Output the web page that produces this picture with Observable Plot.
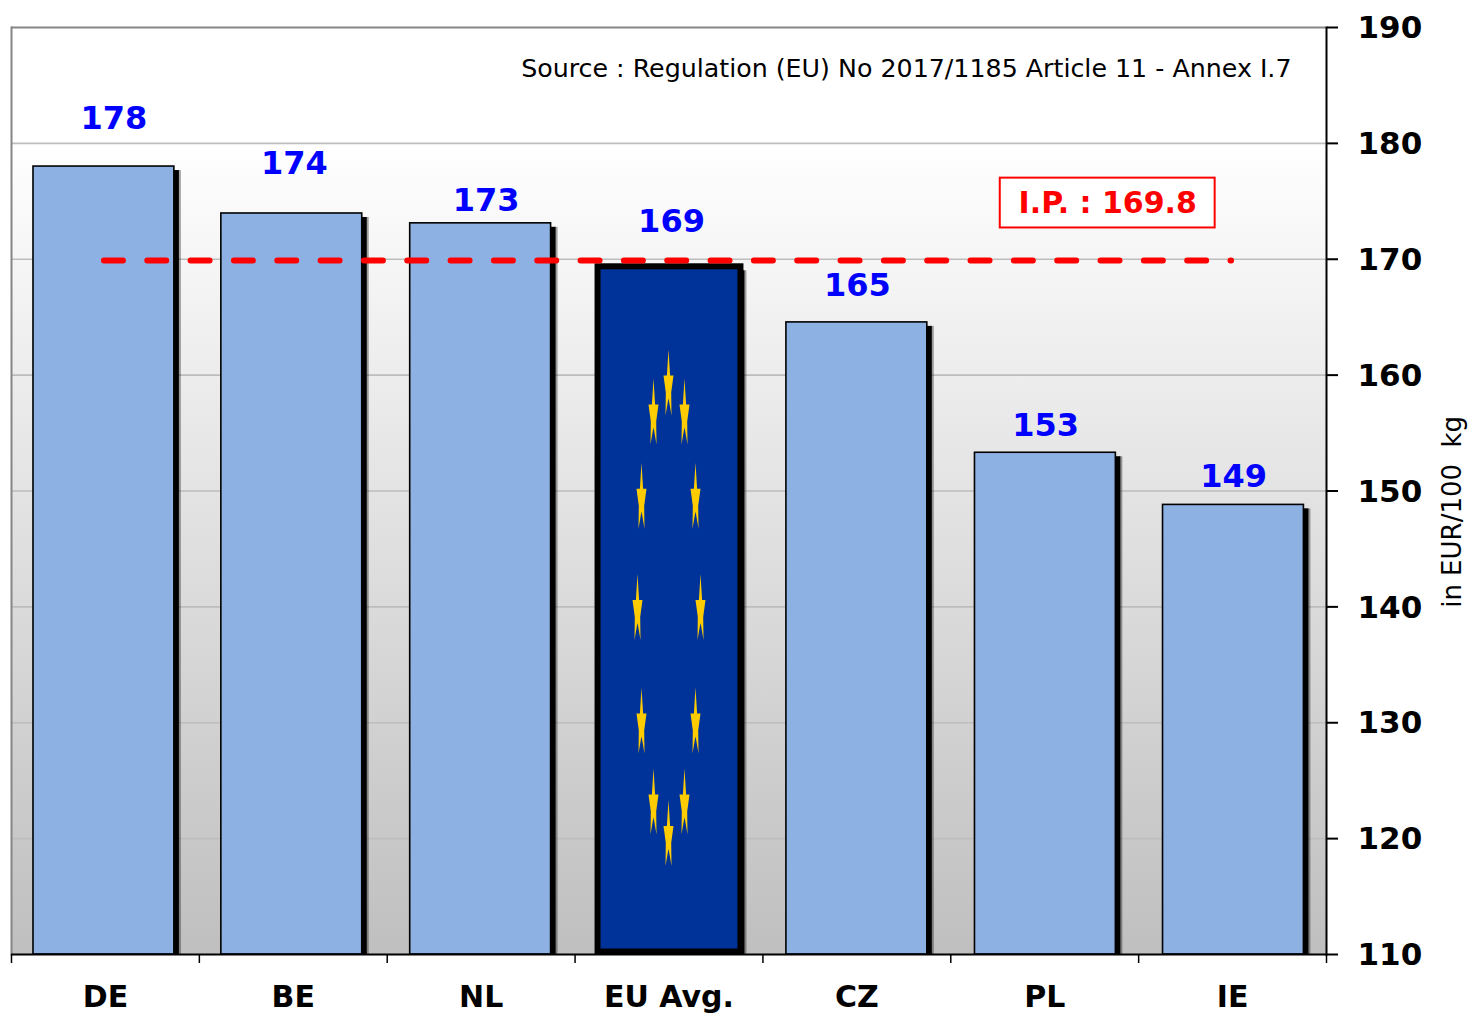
<!DOCTYPE html>
<html>
<head>
<meta charset="utf-8">
<script src="https://cdn.jsdelivr.net/npm/d3@7"></script>
<script src="https://cdn.jsdelivr.net/npm/@observablehq/plot@0.6"></script>
<style>
html,body{margin:0;padding:0;background:#fff}
svg{display:block}
</style>
</head>
<body>
<div id="chart"></div>
<script>
const categories = ["DE","BE","NL","EU Avg.","CZ","PL","IE"];
const values = [178.0,173.95,173.1,169.35,164.55,153.3,148.8];
const barNudge = [-1.5,-1.5,-0.5,0.5,0,0.7,0.9];
const valueLabels = ["178","174","173","169","165","153","149"];
const labelLevels = [182.15,178.27,175.07,173.26,167.74,155.66,151.26];
const labelNudge = [8.5,1,5,2.5,0.5,1,1];
const yTicks = [110,120,130,140,150,160,170,180,190];
const interventionPrice = 169.8;
const starLevels = [159.97,157.47,157.47,150.2,150.2,140.6,140.6,130.8,130.8,123.8,123.8,121.1];
const starNudge = [-0.5,-15.5,15.5,-27.5,26.5,-31.5,31.5,-27.5,26.5,-15.5,15.5,-0.5];

const data = categories.map((c,i)=>({c,v:values[i],eu:c==="EU Avg.",n:barNudge[i]}));

const star = {draw(ctx){
  const p=[[0,-26],[1.6,0],[5,0],[2.7,17],[3,40],[0.6,26],[0,23],[-0.6,26],[-3,40],[-2.7,17],[-5,0],[-1.6,0]];
  p.forEach(([x,y],i)=> i?ctx.lineTo(x,y):ctx.moveTo(x,y));
  ctx.closePath();
}};

const gradient = () => {
  const s = d3.create("svg:defs");
  const g = s.append("linearGradient").attr("id","bg").attr("x1",0).attr("x2",0).attr("y1",0).attr("y2",1);
  g.append("stop").attr("offset","12%").attr("stop-color","#ffffff");
  g.append("stop").attr("offset","100%").attr("stop-color","#bfbfbf");
  return s.node();
};

const FONT = "'DejaVu Sans', Verdana, sans-serif";

const chart = Plot.plot({
  width:1470, height:1013,
  marginLeft:11, marginRight:144, marginTop:27, marginBottom:59,
  style:{fontFamily:FONT, background:"#fff", overflow:"visible"},
  x:{type:"band", domain:categories, paddingInner:0.25, paddingOuter:0.125, round:false, label:null},
  y:{domain:[110,190], label:null},
  marks:[
    gradient,
    Plot.frame({fill:"url(#bg)", stroke:null}),
    Plot.ruleY(yTicks.filter(t=>t>110&&t<190),{stroke:"#bdbdbd",strokeWidth:1.6}),
    Plot.ruleY([190],{stroke:"#858585",strokeWidth:2}),
    Plot.frame({anchor:"left",stroke:"#858585",strokeWidth:2}),
    // bars with shadows
    ...data.flatMap(d=>[
      Plot.barY([d],{x:"c",y1:()=>110,y2:"v",dx:d.n+7,dy:4,insetBottom:4,fill:"#000",fillOpacity:0.35}),
      Plot.barY([d],{x:"c",y1:()=>110,y2:"v",dx:d.n+5,dy:4,insetBottom:4,fill:"#000"}),
      d.eu
        ? Plot.barY([d],{x:"c",y1:()=>110,y2:"v",dx:d.n,insetBottom:2.5,insetLeft:-1,insetRight:-1,fill:"#003399",stroke:"#000",strokeWidth:6})
        : Plot.barY([d],{x:"c",y1:()=>110,y2:"v",dx:d.n,fill:"#8DB1E2",stroke:"#000",strokeWidth:1.6})
    ]),
    // EU stars
    ...starLevels.map((lvl,i)=>Plot.dot(["EU Avg."],{x:d=>d,y:()=>lvl,dx:starNudge[i],symbol:star,fill:"#FFCC00",stroke:"none",r:5})),
    // intervention price line
    Plot.line(categories,{x:d=>d,y:()=>interventionPrice,dx:-1.5,dy:-1,stroke:"#ff0000",strokeWidth:6,strokeDasharray:"19 24.33",strokeLinecap:"round"}),
    // value labels
    ...categories.map((c,i)=>Plot.text([c],{x:d=>d,y:()=>labelLevels[i],dx:labelNudge[i],text:()=>valueLabels[i],fill:"#0000ff",fontSize:32,fontWeight:"bold",lineAnchor:"middle"})),
    // source note
    Plot.text(["Source : Regulation (EU) No 2017/1185 Article 11 - Annex I.7"],{frameAnchor:"right",y:()=>186.4,dx:-35,textAnchor:"end",fontSize:25.3,fill:"#000",lineAnchor:"middle"}),
    // I.P. box
    Plot.barY(["PL"],{x:d=>d,y1:()=>172.7,y2:()=>177,dx:63,insetLeft:-37,insetRight:-37,fill:"#fff",stroke:"#ff0000",strokeWidth:2}),
    Plot.text(["I.P. : 169.8"],{x:()=>"PL",y:()=>174.8,dx:63,fill:"#ff0000",fontSize:30,fontWeight:"bold",lineAnchor:"middle"}),
    // axes
    Plot.axisY({anchor:"right",ticks:yTicks,tickSize:11,stroke:"#000",strokeWidth:2,strokeOpacity:1,label:null,tickFormat:()=>""}),
    Plot.axisY({anchor:"right",ticks:yTicks,tickSize:0,tickPadding:31,dy:0.8,fontSize:31,fontWeight:"bold",fill:"#000",label:null,tickFormat:d=>String(d)}),
    Plot.frame({anchor:"right",stroke:"#000",strokeWidth:2}),
    Plot.ruleY([110],{stroke:"#000",strokeWidth:1.8}),
    Plot.ruleX(categories,{x:d=>d,dx:-93.93,y1:()=>110,y2:()=>110,insetBottom:-9,stroke:"#000",strokeWidth:1.5}),
    Plot.ruleX(["IE"],{x:d=>d,dx:93.93,y1:()=>110,y2:()=>110,insetBottom:-9,stroke:"#000",strokeWidth:1.5}),
    Plot.axisX({anchor:"bottom",tickSize:0,tickPadding:31,fontSize:30,fontWeight:"bold",fill:"#000",label:null}),
    // y title
    Plot.text(["in EUR/100\u00a0\u00a0kg"],{frameAnchor:"right",y:()=>148.2,dx:126,rotate:-90,textAnchor:"middle",fontSize:26,fill:"#000",lineAnchor:"middle"})
  ]
});
document.getElementById("chart").appendChild(chart);
</script>
</body>
</html>
